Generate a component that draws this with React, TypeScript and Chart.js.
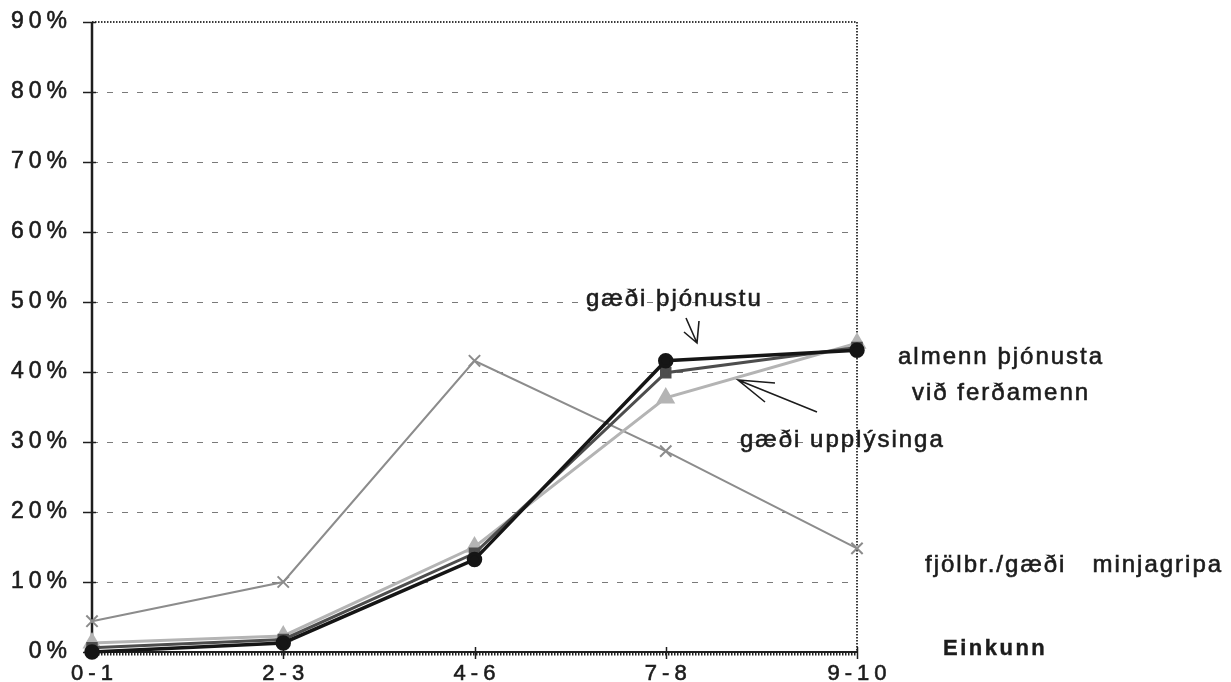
import React, { useEffect, useRef } from 'react';
import { Chart, registerables } from 'chart.js';

Chart.register(...registerables);

// Grade bands (x axis) and percentage ticks (y axis)
const categories = ['0-1', '2-3', '4-6', '7-8', '9-10'];
const yTicks = [0, 10, 20, 30, 40, 50, 60, 70, 80, 90];

// Share of answers per grade band, in percent
const gaediThjonustu = [0, 1.3, 13.2, 41.6, 43.1];
const almennThjonusta = [0.6, 1.8, 14.1, 39.9, 43.5];
const gaediUpplysinga = [1.3, 2.3, 15.0, 36.3, 44.1];
const minjagripir = [4.4, 10.0, 41.6, 28.7, 14.8];

const FONT = '"Liberation Sans", Arial, Helvetica, sans-serif';

// Draws the dashed grid, the plot frame and the axis lines under the data
const framePlugin = {
  id: 'frame',
  beforeDatasetsDraw(chart: any) {
    const { ctx, chartArea, scales } = chart;
    const { left, right, top, bottom } = chartArea;
    const y = scales.y;
    const x = scales.x;
    ctx.save();

    // dashed horizontal grid
    ctx.strokeStyle = '#7a7a7a';
    ctx.lineWidth = 1.2;
    ctx.setLineDash([6, 9]);
    yTicks.forEach((v) => {
      if (v === 0 || v === 90) return;
      const py = Math.round(y.getPixelForValue(v)) + 0.5;
      ctx.beginPath();
      ctx.moveTo(left, py);
      ctx.lineTo(right, py);
      ctx.stroke();
    });

    // dotted top and right edges of the plot
    ctx.strokeStyle = '#3a3a3a';
    ctx.lineWidth = 2;
    ctx.setLineDash([1.5, 1.5]);
    const yTop = y.getPixelForValue(90);
    const xRight = x.getPixelForValue(categories.length - 1);
    ctx.beginPath();
    ctx.moveTo(left, yTop);
    ctx.lineTo(xRight, yTop);
    ctx.moveTo(xRight, yTop);
    ctx.lineTo(xRight, bottom);
    ctx.stroke();

    // left axis
    ctx.setLineDash([]);
    ctx.strokeStyle = '#1e1e1e';
    ctx.lineWidth = 2.5;
    ctx.beginPath();
    ctx.moveTo(left, top);
    ctx.lineTo(left, bottom);
    ctx.stroke();

    // y tick marks
    ctx.lineWidth = 1.5;
    yTicks.forEach((v) => {
      const py = Math.round(y.getPixelForValue(v)) + 0.5;
      ctx.beginPath();
      ctx.moveTo(left - 9, py);
      ctx.lineTo(left + 4, py);
      ctx.stroke();
    });

    // bottom axis with fine ruling beneath
    ctx.lineWidth = 2;
    ctx.beginPath();
    ctx.moveTo(left, bottom);
    ctx.lineTo(xRight, bottom);
    ctx.stroke();
    ctx.lineWidth = 3;
    ctx.setLineDash([1.5, 1.5]);
    ctx.beginPath();
    ctx.moveTo(left, bottom + 2);
    ctx.lineTo(xRight, bottom + 2);
    ctx.stroke();

    // x tick marks
    ctx.setLineDash([]);
    ctx.lineWidth = 1.5;
    categories.forEach((_, i) => {
      const px = Math.round(x.getPixelForValue(i)) + 0.5;
      ctx.beginPath();
      ctx.moveTo(px, bottom - 5);
      ctx.lineTo(px, bottom + 7);
      ctx.stroke();
    });

    ctx.restore();
  },
};

function arrow(ctx: CanvasRenderingContext2D, tail: number[], tip: number[], h1: number[], h2: number[]) {
  ctx.beginPath();
  ctx.moveTo(tail[0], tail[1]);
  ctx.lineTo(tip[0], tip[1]);
  ctx.moveTo(h1[0], h1[1]);
  ctx.lineTo(tip[0], tip[1]);
  ctx.lineTo(h2[0], h2[1]);
  ctx.stroke();
}

// Text drawn with a hairline outline so it reads slightly heavier
function heavyText(ctx: CanvasRenderingContext2D, text: string, px: number, py: number) {
  ctx.fillText(text, px, py);
  ctx.strokeText(text, px, py);
}

// Axis labels and the series annotations drawn over the plot
const labelPlugin = {
  id: 'labels',
  afterDraw(chart: any) {
    const { ctx, chartArea, scales } = chart;
    const { left, bottom } = chartArea;
    const y = scales.y;
    const x = scales.x;
    ctx.save();
    ctx.fillStyle = '#1c1c1c';
    ctx.strokeStyle = '#1c1c1c';
    ctx.lineWidth = 0.6;

    // y tick labels
    ctx.font = `23px ${FONT}`;
    (ctx as any).letterSpacing = '5px';
    ctx.textAlign = 'right';
    ctx.textBaseline = 'middle';
    yTicks.forEach((v) => {
      heavyText(ctx, `${v}%`, left - 20, y.getPixelForValue(v));
    });

    // x tick labels
    ctx.font = `22px ${FONT}`;
    (ctx as any).letterSpacing = '5px';
    ctx.textAlign = 'center';
    categories.forEach((c, i) => {
      heavyText(ctx, c, x.getPixelForValue(i) + 2.5, bottom + 22);
    });

    // series annotations
    ctx.textAlign = 'left';
    ctx.font = `24px ${FONT}`;
    (ctx as any).letterSpacing = '2px';
    heavyText(ctx, 'gæði þjónustu', 586, 299);
    heavyText(ctx, 'almenn þjónusta', 898, 357);
    heavyText(ctx, 'við ferðamenn', 912, 393);
    heavyText(ctx, 'gæði upplýsinga', 740, 440);
    heavyText(ctx, 'fjölbr./gæði   minjagripa', 925, 565);

    // axis title
    ctx.font = `bold 22px ${FONT}`;
    (ctx as any).letterSpacing = '2.5px';
    ctx.lineWidth = 0.4;
    heavyText(ctx, 'Einkunn', 943, 649);

    ctx.lineWidth = 1.6;
    arrow(ctx, [686, 318], [697, 343], [684, 332], [699, 321]);
    arrow(ctx, [817, 412], [738, 380], [775, 383], [765, 402]);

    ctx.restore();
  },
};

export default function App() {
  const canvasRef = useRef<HTMLCanvasElement | null>(null);

  useEffect(() => {
    const canvas = canvasRef.current;
    if (!canvas) return;
    const chart = new Chart(canvas, {
      type: 'line',
      data: {
        labels: categories,
        datasets: [
          {
            label: 'gæði þjónustu',
            data: gaediThjonustu,
            borderColor: '#151515',
            backgroundColor: '#151515',
            borderWidth: 3.5,
            pointStyle: 'circle',
            pointRadius: 6,
            pointBackgroundColor: '#151515',
            pointBorderColor: '#151515',
            clip: false,
          },
          {
            label: 'almenn þjónusta við ferðamenn',
            data: almennThjonusta,
            borderColor: '#4d4d4d',
            backgroundColor: '#4d4d4d',
            borderWidth: 3,
            pointStyle: 'rect',
            pointRadius: 6,
            pointBackgroundColor: '#4d4d4d',
            pointBorderColor: '#4d4d4d',
            clip: false,
          },
          {
            label: 'gæði upplýsinga',
            data: gaediUpplysinga,
            borderColor: '#b4b4b4',
            backgroundColor: '#b4b4b4',
            borderWidth: 3,
            pointStyle: 'triangle',
            pointRadius: 8,
            pointBackgroundColor: '#b4b4b4',
            pointBorderColor: '#b4b4b4',
            clip: false,
          },
          {
            label: 'fjölbr./gæði minjagripa',
            data: minjagripir,
            borderColor: '#8c8c8c',
            backgroundColor: '#8c8c8c',
            borderWidth: 2,
            pointStyle: 'crossRot',
            pointRadius: 8,
            pointBorderWidth: 2,
            pointBorderColor: '#8c8c8c',
            clip: false,
          },
        ],
      },
      options: {
        responsive: true,
        maintainAspectRatio: false,
        animation: false,
        layout: { padding: { left: 92, top: 22, right: 374, bottom: 30 } },
        elements: { line: { tension: 0 } },
        plugins: { legend: { display: false }, tooltip: { enabled: false } },
        scales: {
          x: { type: 'category', offset: false, display: false },
          y: { min: 0, max: 90, display: false },
        },
      },
      plugins: [framePlugin, labelPlugin],
    });
    return () => chart.destroy();
  }, []);

  return (
    <div style={{ position: 'fixed', left: 0, top: 0, width: 1231, height: 682, background: '#fff' }}>
      <canvas ref={canvasRef} />
    </div>
  );
}
